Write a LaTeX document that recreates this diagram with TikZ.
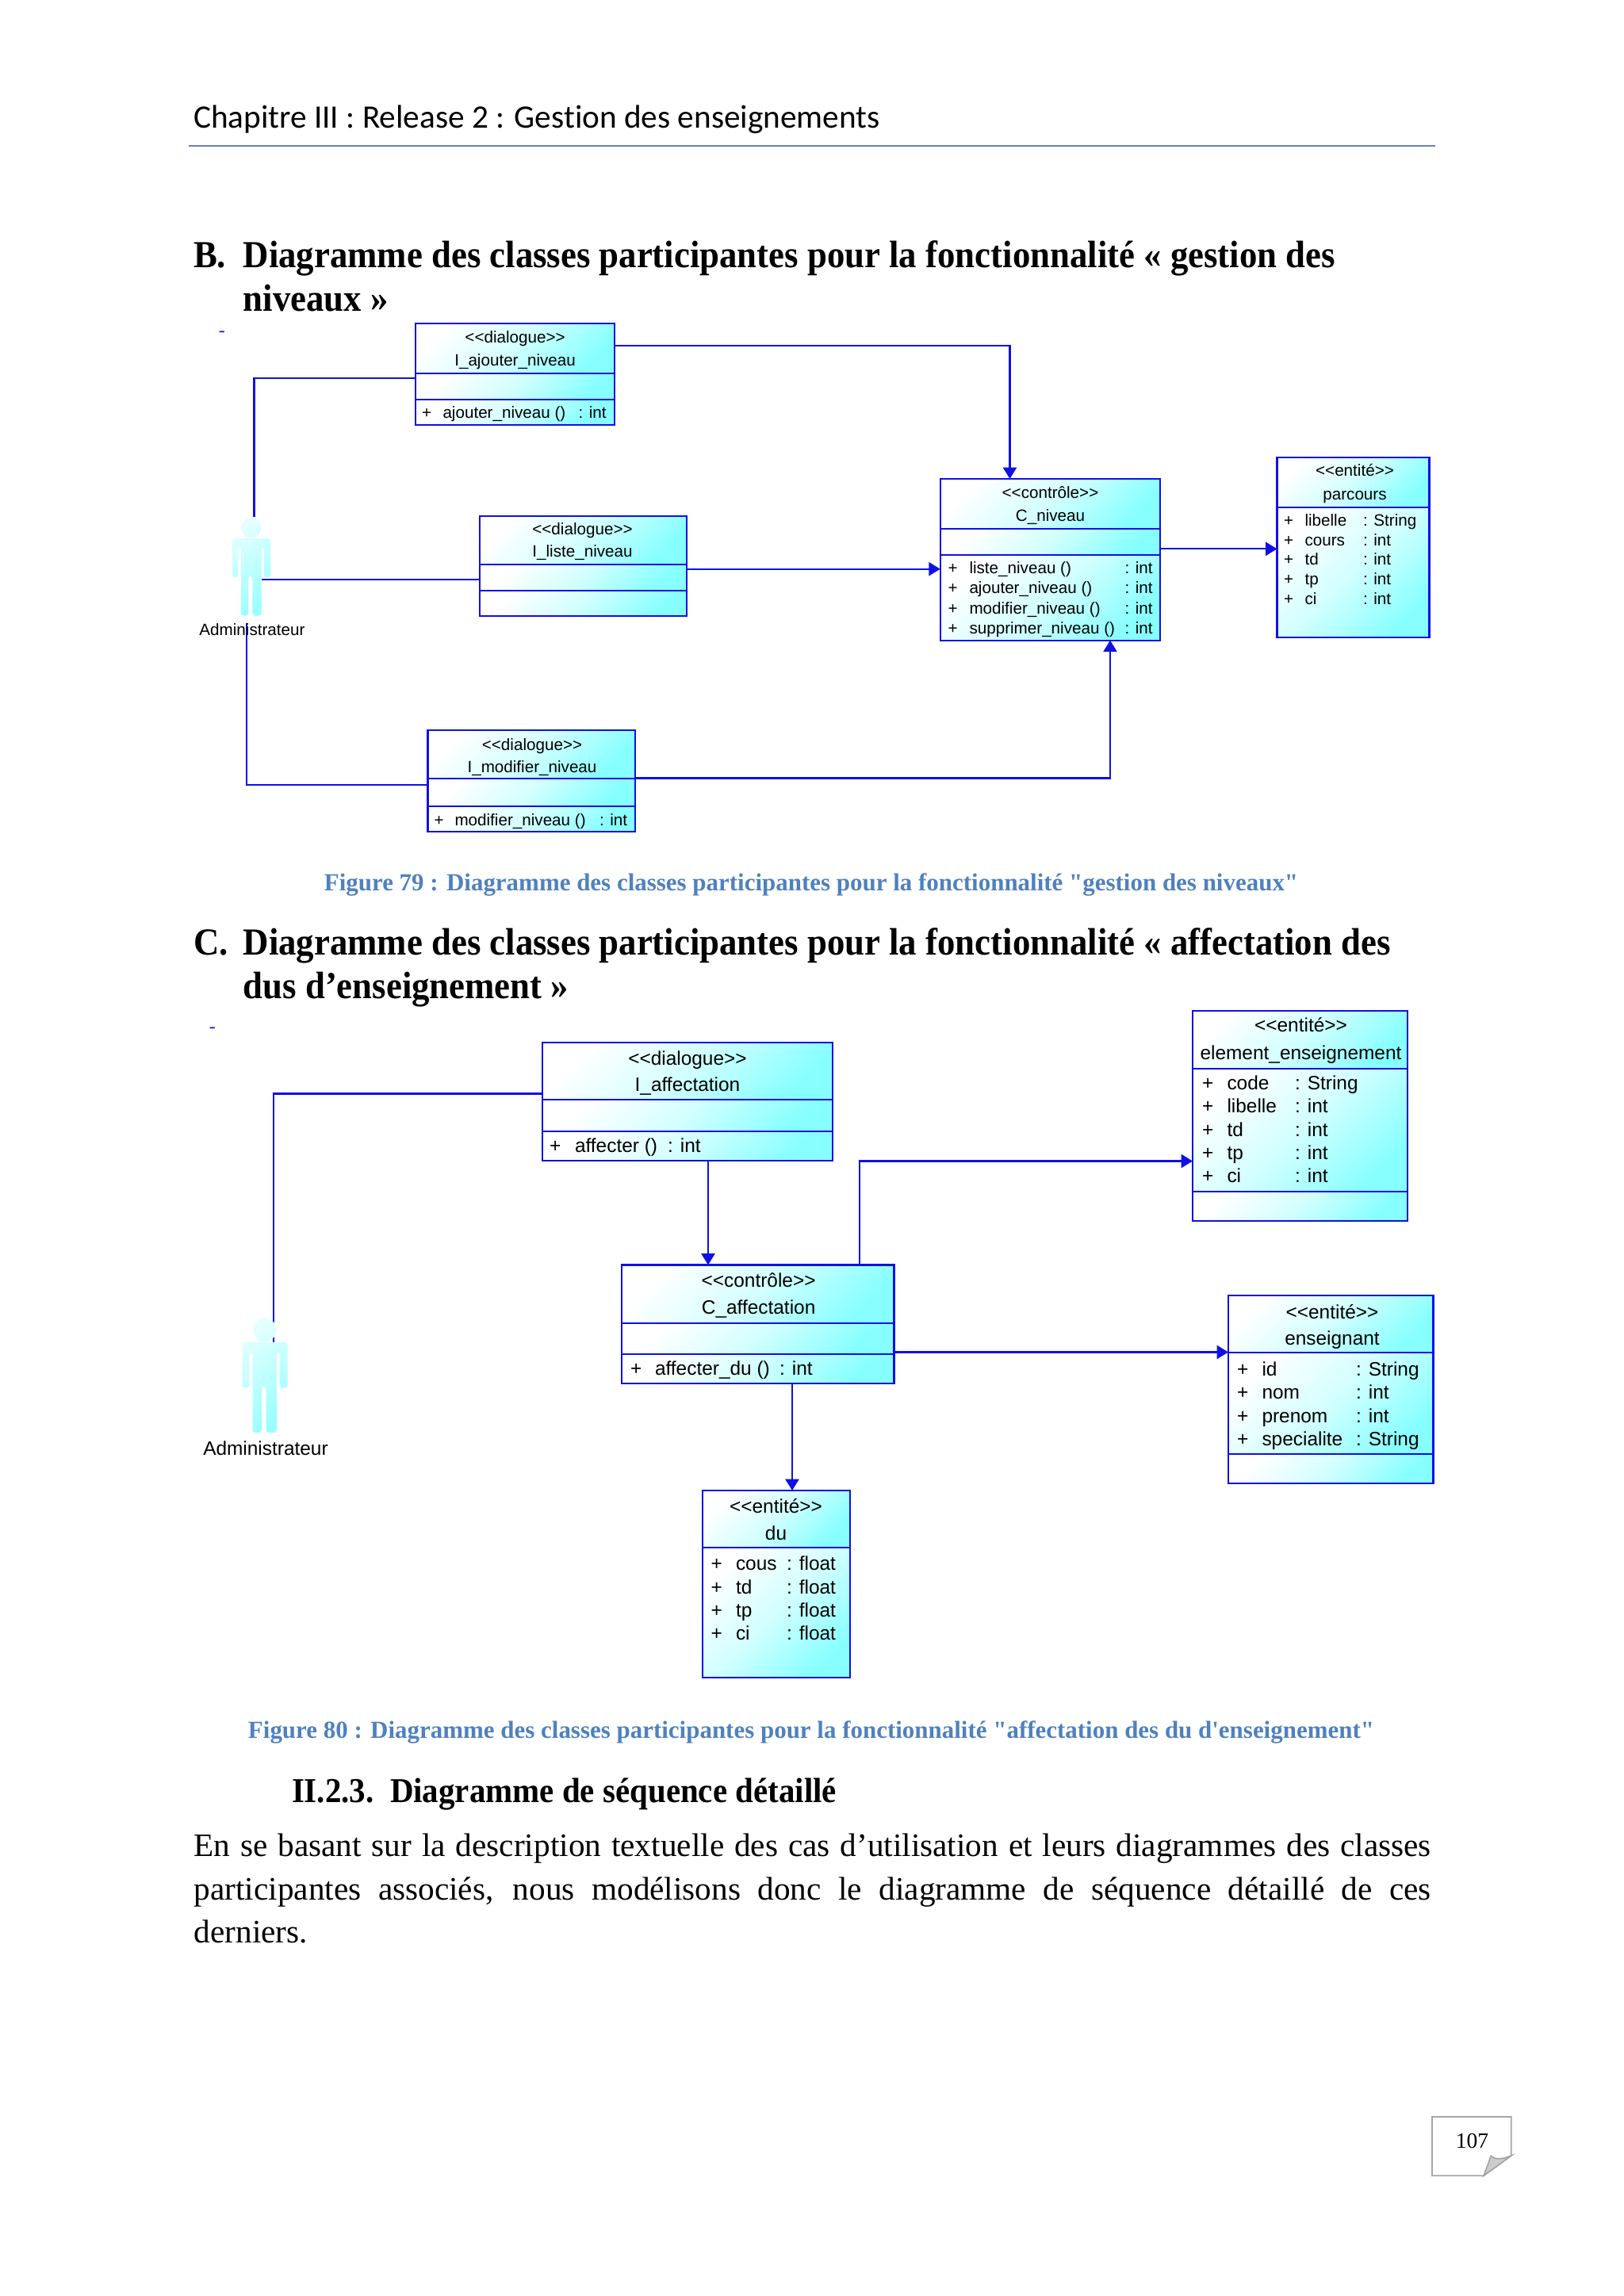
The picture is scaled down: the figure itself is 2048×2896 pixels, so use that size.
\documentclass[tikz,border=0pt]{standalone}
\usepackage{fontspec}
\setmainfont{Liberation Serif}
\newfontfamily\umlfont{Liberation Sans}
\newfontfamily\chapfont[Ligatures=NoCommon]{Carlito}
\newfontfamily\headfont[FakeStretch=0.93]{Liberation Serif}
\newfontfamily\capfont{Liberation Serif}
\usetikzlibrary{arrows.meta,fit}
\definecolor{umlblue}{RGB}{16,16,230}
\definecolor{umlcyan}{RGB}{136,255,255}
\definecolor{capblue}{RGB}{79,129,189}
\definecolor{chaprule}{RGB}{100,130,180}
\tikzset{
  part/.style={draw=umlblue,line width=.6pt,rectangle,inner sep=0pt,outer sep=0pt,
    top color=white,bottom color=umlcyan,middle color=umlcyan!38,shading angle=45},
  assoc/.style={draw=umlblue,line width=.6pt},
  flow/.style={assoc,-{Triangle[length=4.2pt,width=5pt]}},
  txt/.style={inner sep=0pt,outer sep=0pt,anchor=base west},
  mid/.style={inner sep=0pt,outer sep=0pt,anchor=base},
  uml6/.style={yshift=-.3pt,font=\umlfont\fontsize{6}{7}\selectfont},
  uml7/.style={yshift=-.3pt,font=\umlfont\fontsize{7.1}{8}\selectfont},
  hd/.style={txt,font=\headfont\fontsize{14}{16}\selectfont\bfseries},
  figcap/.style={mid,text=capblue,font=\capfont\fontsize{9}{11}\selectfont\bfseries},
  adminfig/.pic={
    \shade[top color=umlcyan!22,bottom color=umlcyan!85,shading angle=35]
    (0,-49.3) ellipse (12.5 and 12.7)
    [rounded corners=1pt]
    (-24.3,13.3) -- (-24.3,-36) -- (24.4,-36) -- (24.4,13.3) -- (16,13.3) -- (16,-25)
    -- (12.8,-25) -- (12.8,61.7) -- (1.4,61.7) -- (1.4,11.7) -- (-3.6,11.7)
    -- (-3.6,61.7) -- (-13.1,61.7) -- (-13.1,-25) -- (-16.6,-25) -- (-16.6,13.3) -- cycle;
  },
}
\begin{document}
\begin{tikzpicture}[x=0.2907pt,y=-0.2907pt]
  \useasboundingbox (0,0) rectangle (2048,2896);

  % page text
  \node[txt,font=\chapfont\fontsize{12}{14}\selectfont] (chap) at (244,161)
  {Chapitre III : Release 2 : Gestion des enseignements};
  \draw[chaprule,line width=.6pt] (238,184) -- (1810,184);

  \node[hd] (bl) at (244,337) {B.};
  \node[hd] (bt) at (306.7,337) {Diagramme des classes participantes pour la fonctionnalité « gestion des};
  \node[hd] (bu) at (306.7,392) {niveaux »};
  \node[hd] (cl) at (244,1204) {C.};
  \node[hd] (ct) at (306.7,1204) {Diagramme des classes participantes pour la fonctionnalité « affectation des};
  \node[hd] (cu) at (306.7,1259) {dus d’enseignement »};
  \node[mid,text=umlblue,font=\fontsize{7}{8}\selectfont] (dasha) at (280,424) {-};
  \node[mid,text=umlblue,font=\fontsize{7}{8}\selectfont] (dashb) at (268,1302) {-};

  \node[figcap] (capa) at (1023,1123)
  {Figure 79 : Diagramme des classes participantes pour la fonctionnalité "gestion des niveaux"};
  \node[figcap] (capb) at (1023,2192)
  {Figure 80 : Diagramme des classes participantes pour la fonctionnalité "affectation des du d'enseignement"};

  \node[txt,font=\headfont\fontsize{12.8}{16}\selectfont\bfseries] (sec) at (368,2273)
  {II.2.3.\ \ Diagramme de séquence détaillé};
  \node[inner sep=0pt,anchor=north west,text width=453.5pt,align=justify,
    font=\fontsize{12}{15.9}\selectfont] (body) at (244,2312)
  {En se basant sur la description textuelle des cas d’utilisation et leurs diagrammes des classes
    participantes associés, nous modélisons donc le diagramme de séquence détaillé de ces\break
    derniers.};

  % page number
  \draw[gray!70,line width=.5pt,fill=white] (1806,2670) -- (1905.7,2670) -- (1905.7,2719)
  -- (1871,2744.3) -- (1806,2744.3) -- cycle;
  \draw[gray!70,line width=.5pt,fill=gray!40] (1905.7,2719)
  .. controls (1894,2724) and (1885,2724) .. (1880.3,2719.3) -- (1871,2744.3) -- cycle;
  \node[mid,font=\fontsize{8}{10}\selectfont] (pg) at (1856.5,2709) {107};

  % first diagram
  \node[part,fit={(523.7,408.3) (774.6,470.7)}] (aj1) {};
  \node[part,fit={(523.7,470.7) (774.6,503.7)}] (aj2) {};
  \node[part,fit={(523.7,503.7) (774.6,535.7)}] (aj3) {};
  \node[part,fit={(605,650.7) (865.6,712)}] (li1) {};
  \node[part,fit={(605,712) (865.6,744.7)}] (li2) {};
  \node[part,fit={(605,744.7) (865.6,776.7)}] (li3) {};
  \node[part,fit={(539.5,921) (801,982)}] (mo1) {};
  \node[part,fit={(539.5,982) (801,1017)}] (mo2) {};
  \node[part,fit={(539.5,1017) (801,1049)}] (mo3) {};
  \node[part,fit={(1185.7,604) (1462.8,667)}] (cn1) {};
  \node[part,fit={(1185.7,667) (1462.8,700)}] (cn2) {};
  \node[part,fit={(1185.7,700) (1462.8,807.7)}] (cn3) {};
  \node[part,fit={(1610.5,576.7) (1802.5,639.7)}] (pa1) {};
  \node[part,fit={(1610.5,639.7) (1802.5,804)}] (pa2) {};
  \node[inner sep=0pt,fit={(292.3,653) (341,776.7)}] (adma) {};

  \draw[assoc] (adma.north -| 320.5,0) |- (aj1.west |- 0,476.7);
  \draw[assoc] (adma.south -| 311,0) ++(0,9) |- (mo1.west |- 0,990);
  \draw[assoc] (adma.east |- 0,731) ++(-12,0) -- (li2.west |- 0,731);
  \pic (figa) at (316.9,715) {adminfig};
  \node[mid,uml6] (labela) at (318,800.7) {Administrateur};

  \draw[flow] (aj1.east |- 0,435.7) -| (cn1.north -| 1273.5,0);
  \draw[flow] (li2.east |- 0,717.7) -- (cn3.west |- 0,717.7);
  \draw[flow] (mo1.east |- 0,981.5) -| (cn3.south -| 1400,0);
  \draw[flow] (cn2.east |- 0,692.3) -- (pa2.west |- 0,692.3);

  \node[mid,uml6] (aj4) at (649.6,431) {<{}<dialogue>{}>};
  \node[mid,uml6] (aj5) at (649.6,460.3) {I\_ajouter\_niveau};
  \node[txt,uml6] (aj6) at (532,526) {+};
  \node[txt,uml6] (aj7) at (558.5,526) {ajouter\_niveau ()};
  \node[txt,uml6] (aj8) at (729.5,526) {: int};
  \node[mid,uml6] (li4) at (734.5,673.3) {<{}<dialogue>{}>};
  \node[mid,uml6] (li5) at (734.5,701.7) {I\_liste\_niveau};
  \node[mid,uml6] (mo4) at (671,945.5) {<{}<dialogue>{}>};
  \node[mid,uml6] (mo5) at (671,973) {I\_modifier\_niveau};
  \node[txt,uml6] (mo6) at (547.5,1040) {+};
  \node[txt,uml6] (mo7) at (573.5,1040) {modifier\_niveau ()};
  \node[txt,uml6] (mo8) at (756,1040) {: int};
  \node[mid,uml6] (cn4) at (1324.5,627.3) {<{}<contrôle>{}>};
  \node[mid,uml6] (cn5) at (1324.5,656.7) {C\_niveau};
  \foreach \i/\y/\m in {1/722.3/liste\_niveau (),2/747.7/ajouter\_niveau (),
      3/773.3/modifier\_niveau (),4/798.3/supprimer\_niveau ()} {
    \node[txt,uml6] (cnp\i) at (1195.5,\y) {+};
    \node[txt,uml6] (cnm\i) at (1222.5,\y) {\m};
    \node[txt,uml6] (cnt\i) at (1418.5,\y) {: int};
  }
  \node[mid,uml6] (pa4) at (1708.5,599.3) {<{}<entité>{}>};
  \node[mid,uml6] (pa5) at (1708.5,629.3) {parcours};
  \foreach \i/\y/\m/\t in {1/662.7/libelle/String,2/687.3/cours/int,3/711.3/td/int,
      4/736/tp/int,5/761.3/ci/int} {
    \node[txt,uml6] (pap\i) at (1619,\y) {+};
    \node[txt,uml6] (pam\i) at (1645.5,\y) {\m};
    \node[txt,uml6] (pat\i) at (1719,\y) {: \t};
  }

  % second diagram
  \node[part,fit={(684,1315) (1050,1387)}] (af1) {};
  \node[part,fit={(684,1387) (1050,1427)}] (af2) {};
  \node[part,fit={(684,1427) (1050,1464)}] (af3) {};
  \node[part,fit={(784,1595.5) (1127.5,1669)}] (ca1) {};
  \node[part,fit={(784,1669) (1127.5,1708)}] (ca2) {};
  \node[part,fit={(784,1708) (1127.5,1745)}] (ca3) {};
  \node[part,fit={(885.6,1880) (1072,1952)}] (du1) {};
  \node[part,fit={(885.6,1952) (1072,2116)}] (du2) {};
  \node[part,fit={(1504,1275) (1775,1348)}] (el1) {};
  \node[part,fit={(1504,1348) (1775,1503)}] (el2) {};
  \node[part,fit={(1504,1503) (1775,1540)}] (el3) {};
  \node[part,fit={(1549,1634) (1807.5,1706)}] (en1) {};
  \node[part,fit={(1549,1706) (1807.5,1834)}] (en2) {};
  \node[part,fit={(1549,1834) (1807.5,1871)}] (en3) {};
  \node[inner sep=0pt,fit={(305,1662) (361.3,1807.7)}] (admb) {};

  \draw[assoc] (admb.north -| 345,0) ++(0,33) |- (af1.west |- 0,1379.5);
  \pic[scale=1.17] (figb) at (334,1735) {adminfig};
  \node[mid,uml7] (labelb) at (335,1834) {Administrateur};

  \draw[flow] (af3.south -| 893,0) -- (ca1.north -| 893,0);
  \draw[flow] (ca3.south -| 999,0) -- (du1.north -| 999,0);
  \draw[flow] (ca1.north -| 1084,0) |- (el2.west |- 0,1464.5);
  \draw[flow] (ca2.east |- 0,1705.5) -- (en2.west |- 0,1705.5);

  \node[mid,uml7] (af4) at (867,1342) {<{}<dialogue>{}>};
  \node[mid,uml7] (af5) at (867,1375.5) {I\_affectation};
  \node[txt,uml7] (af6) at (693,1452.5) {+};
  \node[txt,uml7] (af7) at (725,1452.5) {affecter ()};
  \node[txt,uml7] (af8) at (842,1452.5) {: int};
  \node[mid,uml7] (ca4) at (956.6,1622.5) {<{}<contrôle>{}>};
  \node[mid,uml7] (ca5) at (956.6,1656.5) {C\_affectation};
  \node[txt,uml7] (ca6) at (795,1733.5) {+};
  \node[txt,uml7] (ca7) at (826,1733.5) {affecter\_du ()};
  \node[txt,uml7] (ca8) at (983,1733.5) {: int};
  \node[mid,uml7] (du4) at (978.5,1907) {<{}<entité>{}>};
  \node[mid,uml7] (du5) at (978.5,1941) {du};
  \foreach \i/\y/\m in {1/1979.6/cous,2/2009/td,3/2038.7/tp,4/2067/ci} {
    \node[txt,uml7] (dup\i) at (896.5,\y) {+};
    \node[txt,uml7] (dum\i) at (928,\y) {\m};
    \node[txt,uml7] (dut\i) at (992,\y) {: float};
  }
  \node[mid,uml7] (el4) at (1640.5,1300.7) {<{}<entité>{}>};
  \node[mid,uml7] (el5) at (1640.5,1335) {element\_enseignement};
  \foreach \i/\y/\m/\t in {1/1373/code/String,2/1402.7/libelle/int,3/1432/td/int,
      4/1461/tp/int,5/1490.7/ci/int} {
    \node[txt,uml7] (elp\i) at (1516,\y) {+};
    \node[txt,uml7] (elm\i) at (1547.5,\y) {\m};
    \node[txt,uml7] (elt\i) at (1633,\y) {: \t};
  }
  \node[mid,uml7] (en4) at (1680,1662) {<{}<entité>{}>};
  \node[mid,uml7] (en5) at (1680,1695) {enseignant};
  \foreach \i/\y/\m/\t in {1/1734/id/String,2/1763.6/nom/int,3/1793/prenom/int,
      4/1822.7/specialite/String} {
    \node[txt,uml7] (enp\i) at (1560,\y) {+};
    \node[txt,uml7] (enm\i) at (1591.5,\y) {\m};
    \node[txt,uml7] (ent\i) at (1710,\y) {: \t};
  }
\end{tikzpicture}
\end{document}
